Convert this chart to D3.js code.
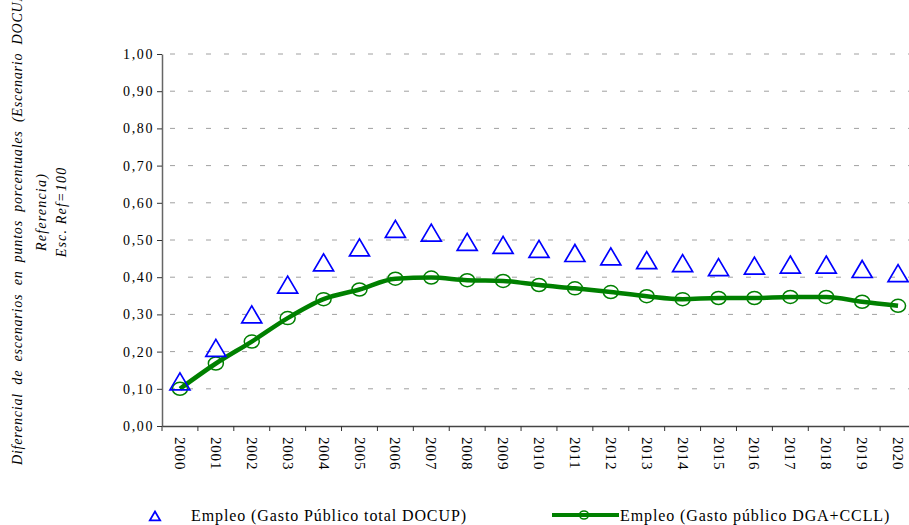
<!DOCTYPE html>
<html>
<head>
  <meta charset="UTF-8">
  <title>Empleo</title>
  <style>
    body { margin: 0; background: #fff; }
    svg { display: block; }
  </style>
</head>
<body>
<script src="https://d3js.org/d3.v7.min.js"></script>
<script>
  // datos
  const years = ["2000","2001","2002","2003","2004","2005","2006","2007","2008","2009","2010",
                 "2011","2012","2013","2014","2015","2016","2017","2018","2019","2020"];
  const docupTotal = [0.12,0.21,0.30,0.38,0.44,0.48,0.53,0.52,0.495,0.487,0.476,
                      0.465,0.456,0.446,0.438,0.427,0.431,0.434,0.434,0.422,0.411];
  const dgaCcll = [0.10,0.168,0.227,0.29,0.341,0.367,0.396,0.399,0.392,0.39,0.379,
                   0.37,0.36,0.349,0.341,0.344,0.344,0.347,0.347,0.334,0.323];
  const yTicks = [0,0.1,0.2,0.3,0.4,0.5,0.6,0.7,0.8,0.9,1.0];
  const seriesNames = ["Empleo (Gasto Público total DOCUP)", "Empleo (Gasto público DGA+CCLL)"];

  const width = 909, height = 525;
  const plot = {left: 162, right: 916, top: 54, bottom: 426};
  const serif = "'Liberation Serif', 'Times New Roman', serif";
  const green = "#008000", blue = "#0000ff";

  const svg = d3.select("body").append("svg")
    .attr("width", width)
    .attr("height", height);

  const x = d3.scaleBand().domain(years).range([plot.left, plot.right]).padding(0);
  const y = d3.scaleLinear().domain([0, 1]).range([plot.bottom, plot.top]);
  const fmt = v => d3.format(".2f")(v).replace(".", ",");

  // lineas de cuadricula
  svg.append("g")
    .selectAll("line")
    .data(yTicks.filter(d => d > 0))
    .enter().append("line")
    .attr("x1", plot.left + 8).attr("x2", plot.right)
    .attr("y1", d => y(d)).attr("y2", d => y(d))
    .attr("stroke", "#a0a0a0")
    .attr("stroke-width", 1)
    .attr("stroke-dasharray", "5,13");

  // eje y
  const yAxis = svg.append("g")
    .attr("transform", `translate(${plot.left},0)`)
    .call(d3.axisLeft(y).tickValues(yTicks).tickFormat(fmt).tickSizeInner(5).tickSizeOuter(0));
  yAxis.select(".domain").attr("stroke", "#666").attr("stroke-width", 1.5);
  yAxis.selectAll(".tick line").attr("stroke", "#333");
  yAxis.selectAll("text")
    .attr("font-family", serif).attr("font-size", "14px").attr("fill", "#000")
    .attr("letter-spacing", "1.6px")
    .attr("x", -8);

  // eje x
  const xAxis = svg.append("g")
    .attr("transform", `translate(0,${plot.bottom})`)
    .call(d3.axisBottom(x).tickSize(0).tickPadding(0));
  xAxis.select(".domain").attr("stroke", "#444").attr("stroke-width", 1.5);
  xAxis.selectAll("text")
    .attr("font-family", serif).attr("font-size", "15px").attr("fill", "#000")
    .attr("letter-spacing", "0.8px")
    .attr("text-anchor", "start")
    .attr("transform", "rotate(90)")
    .attr("x", 11).attr("y", 0).attr("dy", "0.33em");
  // marcas entre categorias
  xAxis.selectAll(".sep")
    .data(years.concat(["end"]))
    .enter().append("line")
    .attr("class", "sep")
    .attr("x1", d => d === "end" ? plot.right : x(d))
    .attr("x2", d => d === "end" ? plot.right : x(d))
    .attr("y1", 0).attr("y2", 5)
    .attr("stroke", "#333").attr("stroke-width", 1);

  // serie verde
  const cx = d => x(d) + x.bandwidth() / 2;
  const line = d3.line()
    .x((d, i) => cx(years[i]))
    .y(d => y(d))
    .curve(d3.curveMonotoneX);
  svg.append("path")
    .datum(dgaCcll)
    .attr("d", line)
    .attr("fill", "none")
    .attr("stroke", green)
    .attr("stroke-width", 4.5);
  svg.append("g").selectAll("ellipse")
    .data(dgaCcll)
    .enter().append("ellipse")
    .attr("cx", (d, i) => cx(years[i]))
    .attr("cy", d => y(d))
    .attr("rx", 7.5).attr("ry", 6.5)
    .attr("fill", "none")
    .attr("stroke", green)
    .attr("stroke-width", 1.5);

  // triangulo centrado en su caja
  const triBox = {
    draw(ctx, size) {
      const s = Math.sqrt(size), h = s * 0.85;
      ctx.moveTo(0, -h / 2);
      ctx.lineTo(s / 2, h / 2);
      ctx.lineTo(-s / 2, h / 2);
      ctx.closePath();
    }
  };
  svg.append("g").selectAll("path")
    .data(docupTotal)
    .enter().append("path")
    .attr("d", d3.symbol().type(triBox).size(400))
    .attr("transform", (d, i) => `translate(${cx(years[i])},${y(d)})`)
    .attr("fill", "none")
    .attr("stroke", blue)
    .attr("stroke-width", 1.7);

  // titulo eje y
  const yTitle = svg.append("g")
    .attr("font-family", serif).attr("font-style", "italic").attr("font-size", "14px");
  yTitle.append("text")
    .attr("transform", "translate(22,465) rotate(-90)")
    .attr("text-anchor", "start")
    .attr("word-spacing", "4px")
    .attr("letter-spacing", "0.8px")
    .text("Diferencial de escenarios en puntos porcentuales (Escenario DOCUP - Escenario");
  yTitle.append("text")
    .attr("transform", "translate(46,212) rotate(-90)")
    .attr("text-anchor", "middle")
    .attr("letter-spacing", "1.2px")
    .text("Referencia)");
  yTitle.append("text")
    .attr("transform", "translate(66,212) rotate(-90)")
    .attr("text-anchor", "middle")
    .attr("letter-spacing", "1.2px")
    .text("Esc. Ref=100");

  // leyenda
  const leg = svg.append("g").attr("font-family", serif).attr("font-size", "16px")
    .attr("letter-spacing", "0.9px");
  leg.append("path")
    .attr("d", d3.symbol().type(triBox).size(110))
    .attr("transform", "translate(155,516)")
    .attr("fill", "none").attr("stroke", blue).attr("stroke-width", 1.7);
  leg.append("text").attr("x", 191).attr("y", 521).text(seriesNames[0]);
  leg.append("line")
    .attr("x1", 552).attr("x2", 619).attr("y1", 515).attr("y2", 515)
    .attr("stroke", green).attr("stroke-width", 4);
  leg.append("ellipse")
    .attr("cx", 584).attr("cy", 515).attr("rx", 4.5).attr("ry", 4)
    .attr("fill", "none").attr("stroke", green).attr("stroke-width", 1.5);
  leg.append("text").attr("x", 620).attr("y", 521).text(seriesNames[1]);
</script>
</body>
</html>
